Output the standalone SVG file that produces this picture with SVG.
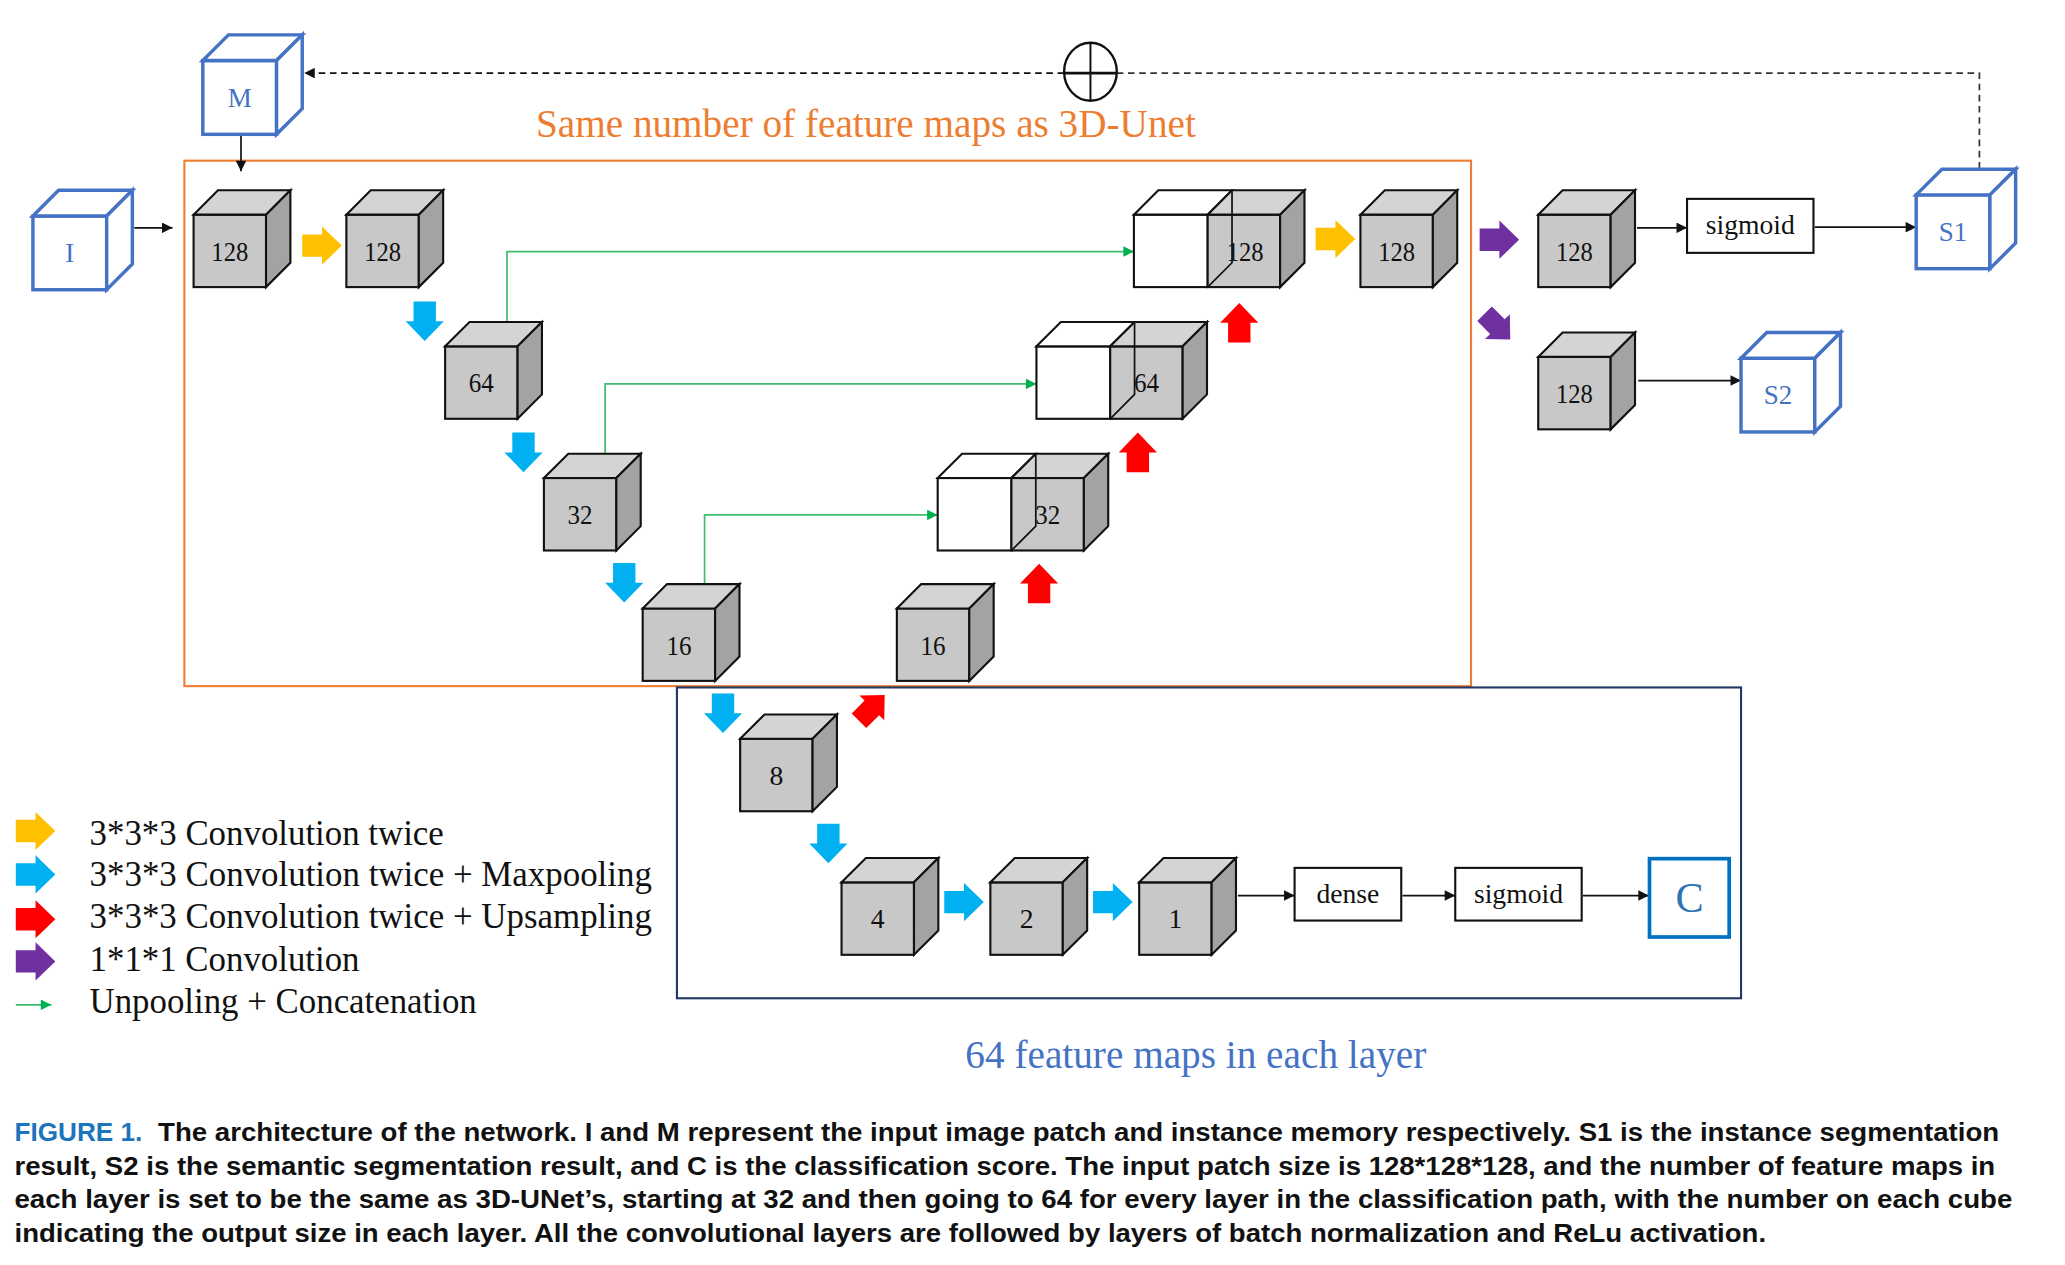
<svg xmlns="http://www.w3.org/2000/svg" xmlns:xlink="http://www.w3.org/1999/xlink" width="2065" height="1265" viewBox="0 0 2065 1265">
<style>
.ser{font-family:"Liberation Serif","Times New Roman",serif}
.lbl{font-family:"Liberation Serif","Times New Roman",serif;font-size:21px;text-anchor:middle;fill:#111}
.blbl{font-family:"Liberation Serif","Times New Roman",serif;font-size:20.5px;text-anchor:middle;fill:#4472C4}
.cs{stroke:#111;stroke-width:1.6;stroke-linejoin:miter}
.bs{stroke:#4472C4;stroke-width:2.6;fill:#fff}
.fr{fill:#C8C8C8}.tp{fill:#D4D4D4}.sd{fill:#A3A3A3}.wh{fill:#fff}
.ln{fill:none;stroke:#111;stroke-width:1.3}
.gl{fill:none;stroke:#3DBE6C;stroke-width:1.3}
.box{fill:#fff;stroke:#111;stroke-width:1.6}
.cap{font-family:"Liberation Sans","Arial",sans-serif;font-weight:bold;font-size:20px;fill:#111}
.leg{font-family:"Liberation Serif","Times New Roman",serif;font-size:27px;fill:#111}
.y{fill:#FFC000}.b{fill:#00B0F0}.r{fill:#FF0000}.p{fill:#7030A0}
</style>
<defs>
<path id="fat" d="M-15,-8.5 H0 V-14.5 L15,0 L0,14.5 V8.5 H-15 Z"/>
<g id="gc" class="cs">
<rect class="fr" x="0" y="0" width="55" height="55"/>
<path class="tp" d="M0,0 L18.5,-18.5 H73.5 L55,0 Z"/>
<path class="sd" d="M55,0 L73.5,-18.5 V36.5 L55,55 Z"/>
</g>
<g id="wc" class="cs">
<rect class="wh" x="0" y="0" width="56" height="55"/>
<path class="wh" d="M0,0 L18.5,-18.5 H74.5 L56,0 Z"/>
</g>
<g id="bc" class="bs">
<rect x="0" y="0" width="56" height="56"/>
<path d="M0,0 L19.5,-19.5 H75.5 L56,0 Z"/>
<path d="M56,0 L75.5,-19.5 V36.5 L56,56 Z"/>
</g>
<marker id="ah" viewBox="0 0 10 10" refX="10" refY="5" markerWidth="9" markerHeight="8" markerUnits="userSpaceOnUse" orient="auto"><path d="M0,0 L10,5 L0,10 Z" fill="#111"/></marker>
<marker id="gh" viewBox="0 0 10 10" refX="10" refY="5" markerWidth="9" markerHeight="8" markerUnits="userSpaceOnUse" orient="auto"><path d="M0,0 L10,5 L0,10 Z" fill="#00B050"/></marker>
</defs>
<rect width="2065" height="1265" fill="#fff"/>
<g transform="scale(1.31697)">

<g id="frames">
<rect x="140" y="122" width="977" height="399" fill="none" stroke="#ED7D31" stroke-width="1.6"/>
<rect x="514" y="522" width="808" height="236" fill="none" stroke="#1F3864" stroke-width="1.6"/>
<text class="ser" x="407" y="104" font-size="30" fill="#ED7D31" textLength="501" lengthAdjust="spacingAndGlyphs">Same number of feature maps as 3D-Unet</text>
<text class="ser" x="733" y="811" font-size="30" fill="#4472C4" textLength="350" lengthAdjust="spacingAndGlyphs">64 feature maps in each layer</text>
</g>

<g id="connectors">
<path class="ln" d="M102,173 H131" marker-end="url(#ah)"/>
<path class="ln" d="M183,103 V130" marker-end="url(#ah)"/>
<path class="ln" d="M1243,173 H1281" marker-end="url(#ah)"/>
<path class="ln" d="M1378,172.5 H1455" marker-end="url(#ah)"/>
<path class="ln" d="M1244,289 H1322" marker-end="url(#ah)"/>
<path class="ln" d="M940,680 H983" marker-end="url(#ah)"/>
<path class="ln" d="M1065,680 H1105" marker-end="url(#ah)"/>
<path class="ln" d="M1202,680 H1252" marker-end="url(#ah)"/>
<path fill="none" stroke="#333" stroke-width="1.3" stroke-dasharray="5,3.5" d="M1503,128 V55.5 H848"/>
<path fill="none" stroke="#111" stroke-width="1.3" stroke-dasharray="5,3.5" d="M808,55.5 H231" marker-end="url(#ah)"/>
<g id="oplus" fill="none" stroke="#111">
<ellipse cx="828" cy="54.5" rx="20" ry="22" stroke-width="1.8" fill="#fff"/>
<path d="M828,32.5 V76.5" stroke-width="1.5"/>
<path d="M808,55.5 H848" stroke-width="2.2"/>
</g>
<path class="gl" d="M385,244.5 V191 H861" marker-end="url(#gh)"/>
<path class="gl" d="M459.5,344.5 V291.5 H787" marker-end="url(#gh)"/>
<path class="gl" d="M535,443.5 V391 H712" marker-end="url(#gh)"/>
<g id="block-arrows">
<use xlink:href="#fat" class="y" transform="translate(244.5,186.5)"/>
<use xlink:href="#fat" class="y" transform="translate(1014,181.5)"/>
<use xlink:href="#fat" class="p" transform="translate(1138.5,182)"/>
<use xlink:href="#fat" class="p" transform="translate(1137,248) rotate(45) scale(0.92)"/>
<use xlink:href="#fat" class="b" transform="translate(322.5,244) rotate(90)"/>
<use xlink:href="#fat" class="b" transform="translate(397.5,343.5) rotate(90)"/>
<use xlink:href="#fat" class="b" transform="translate(474,442.5) rotate(90)"/>
<use xlink:href="#fat" class="b" transform="translate(549,541.5) rotate(90)"/>
<use xlink:href="#fat" class="b" transform="translate(629,640.5) rotate(90)"/>
<use xlink:href="#fat" class="b" transform="translate(732,685)"/>
<use xlink:href="#fat" class="b" transform="translate(845,685)"/>
<use xlink:href="#fat" class="r" transform="translate(789,443) rotate(-90)"/>
<use xlink:href="#fat" class="r" transform="translate(864,343.5) rotate(-90)"/>
<use xlink:href="#fat" class="r" transform="translate(941,245) rotate(-90)"/>
<use xlink:href="#fat" class="r" transform="translate(662,537.5) rotate(-45) scale(0.92)"/>
</g>
</g>

<g id="n-I"><use xlink:href="#bc" x="25" y="164"/><text class="blbl" x="53" y="199">I</text></g>
<g id="n-M"><use xlink:href="#bc" x="154" y="46"/><text class="blbl" x="182" y="81">M</text></g>
<g id="n-S1"><use xlink:href="#bc" x="1455" y="148"/><text class="blbl" x="1483" y="183">S1</text></g>
<g id="n-S2"><use xlink:href="#bc" x="1322" y="272"/><text class="blbl" x="1350" y="307">S2</text></g>

<g id="n-enc128a"><use xlink:href="#gc" x="147" y="163"/><text class="lbl" x="174.5" y="198" textLength="28" lengthAdjust="spacingAndGlyphs">128</text></g>
<g id="n-enc128b"><use xlink:href="#gc" x="263" y="163"/><text class="lbl" x="290.5" y="198" textLength="28" lengthAdjust="spacingAndGlyphs">128</text></g>
<g id="n-enc64"><use xlink:href="#gc" x="338" y="263"/><text class="lbl" x="365.5" y="298" textLength="19" lengthAdjust="spacingAndGlyphs">64</text></g>
<g id="n-enc32"><use xlink:href="#gc" x="413" y="363"/><text class="lbl" x="440.5" y="398" textLength="19" lengthAdjust="spacingAndGlyphs">32</text></g>
<g id="n-enc16"><use xlink:href="#gc" x="488" y="462"/><text class="lbl" x="515.5" y="497" textLength="19" lengthAdjust="spacingAndGlyphs">16</text></g>
<g id="n-dec16"><use xlink:href="#gc" x="681" y="462"/><text class="lbl" x="708.5" y="497" textLength="19" lengthAdjust="spacingAndGlyphs">16</text></g>
<g id="n-c8"><use xlink:href="#gc" x="562" y="561"/><text class="lbl" x="589.5" y="596">8</text></g>
<g id="n-c4"><use xlink:href="#gc" x="639" y="670"/><text class="lbl" x="666.5" y="705">4</text></g>
<g id="n-c2"><use xlink:href="#gc" x="752" y="670"/><text class="lbl" x="779.5" y="705">2</text></g>
<g id="n-c1"><use xlink:href="#gc" x="865" y="670"/><text class="lbl" x="892.5" y="705">1</text></g>

<g id="n-dec32">
<use xlink:href="#wc" x="712" y="363"/><use xlink:href="#gc" x="768" y="363"/>
<path class="ln" stroke-width="1.6" d="M786.5,344.5 V399.5 L768,418"/>
<text class="lbl" x="795.5" y="398" textLength="19" lengthAdjust="spacingAndGlyphs">32</text></g>
<g id="n-dec64">
<use xlink:href="#wc" x="787" y="263"/><use xlink:href="#gc" x="843" y="263"/>
<path class="ln" stroke-width="1.6" d="M861.5,244.5 V299.5 L843,318"/>
<text class="lbl" x="870.5" y="298" textLength="19" lengthAdjust="spacingAndGlyphs">64</text></g>
<g id="n-dec128">
<use xlink:href="#wc" x="861" y="163"/><use xlink:href="#gc" x="917" y="163"/>
<path class="ln" stroke-width="1.6" d="M935.5,144.5 V199.5 L917,218"/>
<text class="lbl" x="945.5" y="198" textLength="28" lengthAdjust="spacingAndGlyphs">128</text></g>
<g id="n-out128"><use xlink:href="#gc" x="1033" y="163"/><text class="lbl" x="1060.5" y="198" textLength="28" lengthAdjust="spacingAndGlyphs">128</text></g>
<g id="n-s1conv"><use xlink:href="#gc" x="1168" y="163"/><text class="lbl" x="1195.5" y="198" textLength="28" lengthAdjust="spacingAndGlyphs">128</text></g>
<g id="n-s2conv"><use xlink:href="#gc" x="1168" y="271"/><text class="lbl" x="1195.5" y="306" textLength="28" lengthAdjust="spacingAndGlyphs">128</text></g>

<g id="n-sigmoid1"><rect class="box" x="1281" y="151" width="96" height="41"/><text class="lbl" x="1329" y="178">sigmoid</text></g>
<g id="n-dense"><rect class="box" x="983" y="659" width="81" height="40"/><text class="lbl" x="1023.5" y="685.5">dense</text></g>
<g id="n-sigmoid2"><rect class="box" x="1105" y="659" width="96" height="40"/><text class="lbl" x="1153" y="685.5">sigmoid</text></g>
<g id="n-C"><rect x="1252.5" y="652" width="60.5" height="59.5" fill="#fff" stroke="#0070C0" stroke-width="2.8"/><text class="ser" x="1283" y="692.5" font-size="32" text-anchor="middle" fill="#2E75B6">C</text></g>

<g id="legend">
<use xlink:href="#fat" class="y" transform="translate(27,631)"/>
<use xlink:href="#fat" class="b" transform="translate(27,664)"/>
<use xlink:href="#fat" class="r" transform="translate(27,698)"/>
<use xlink:href="#fat" class="p" transform="translate(27,730)"/>
<path class="gl" d="M12,763 H39" marker-end="url(#gh)"/>
<text class="leg" x="68" y="641.5" textLength="269" lengthAdjust="spacingAndGlyphs">3*3*3 Convolution twice</text>
<text class="leg" x="68" y="673" textLength="427" lengthAdjust="spacingAndGlyphs">3*3*3 Convolution twice + Maxpooling</text>
<text class="leg" x="68" y="705" textLength="427" lengthAdjust="spacingAndGlyphs">3*3*3 Convolution twice + Upsampling</text>
<text class="leg" x="68" y="737" textLength="205" lengthAdjust="spacingAndGlyphs">1*1*1 Convolution</text>
<text class="leg" x="68" y="769" textLength="294" lengthAdjust="spacingAndGlyphs">Unpooling + Concatenation</text>
</g>

<g id="caption">
<text class="cap" x="11" y="866.5" style="fill:#1C75BC" textLength="97" lengthAdjust="spacingAndGlyphs">FIGURE 1.</text>
<text class="cap" x="120" y="866.5" textLength="1398" lengthAdjust="spacingAndGlyphs">The architecture of the network. I and M represent the input image patch and instance memory respectively. S1 is the instance segmentation</text>
<text class="cap" x="11" y="892" textLength="1504" lengthAdjust="spacingAndGlyphs">result, S2 is the semantic segmentation result, and C is the classification score. The input patch size is 128*128*128, and the number of feature maps in</text>
<text class="cap" x="11" y="917.5" textLength="1517" lengthAdjust="spacingAndGlyphs">each layer is set to be the same as 3D-UNet’s, starting at 32 and then going to 64 for every layer in the classification path, with the number on each cube</text>
<text class="cap" x="11" y="943" textLength="1330" lengthAdjust="spacingAndGlyphs">indicating the output size in each layer. All the convolutional layers are followed by layers of batch normalization and ReLu activation.</text>
</g>
</g>
</svg>
